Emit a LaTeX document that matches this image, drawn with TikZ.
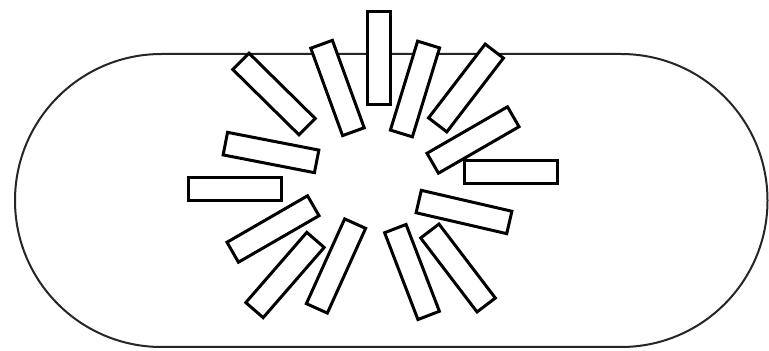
\documentclass[tikz,border=0pt]{standalone}
\begin{document}
\begin{tikzpicture}[x=1pt,y=1pt,
  bar/.style={draw=black, line width=3pt, fill=white, minimum width=93pt, minimum height=23pt, inner sep=0pt, outer sep=0pt},
  rim/.style={draw=black!85, line width=2pt}]
\useasboundingbox (0,0) rectangle (769,351);
\fill[white] (0,0) rectangle (769,351);
\draw[rim, rounded corners=146.5pt] (15,4) rectangle (767.5,297);
\node[bar, rotate=90]    (b1)  at (379,293) {};
\node[bar, rotate=73]    (b2)  at (415,262) {};
\node[bar, rotate=52.5]  (b3)  at (466,263) {};
\node[bar, rotate=30]    (b4)  at (473,211) {};
\node[bar, rotate=0]     (b5)  at (510.5,179) {};
\node[bar, rotate=-13]   (b6)  at (464,139) {};
\node[bar, rotate=-52.7] (b7)  at (458,83) {};
\node[bar, rotate=-69]   (b8)  at (412,79) {};
\node[bar, rotate=65.7]  (b9)  at (336,85) {};
\node[bar, rotate=49]    (b10) at (285,76) {};
\node[bar, rotate=30]    (b11) at (273,122) {};
\node[bar, rotate=0]     (b12) at (234.5,161.5) {};
\node[bar, rotate=-11]   (b13) at (271,198.5) {};
\node[bar, rotate=-44.6] (b14) at (274,257) {};
\node[bar, rotate=-70]   (b15) at (337.5,263) {};
\end{tikzpicture}
\end{document}
